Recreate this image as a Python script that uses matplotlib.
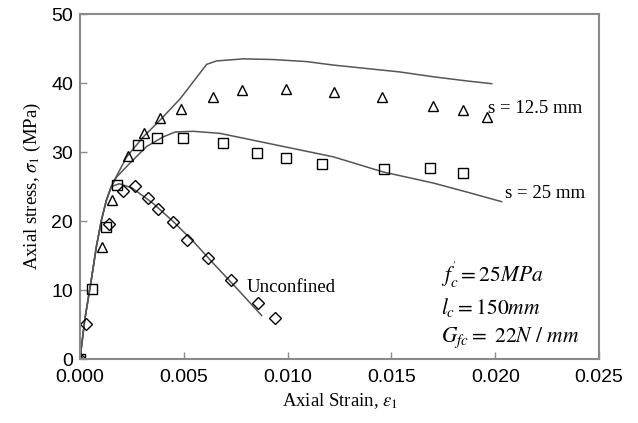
import numpy as np
import matplotlib
matplotlib.use("Agg")
import matplotlib.pyplot as plt

plt.rcParams['mathtext.fontset'] = 'stix'

tri_x = [0.0, 0.00104, 0.00152, 0.0023, 0.00307, 0.00387, 0.00487, 0.00642,
         0.00779, 0.00991, 0.01222, 0.01453, 0.01702, 0.01846, 0.01959]
tri_y = [0.0, 16.3, 23.0, 29.4, 32.8, 34.9, 36.2, 37.9,
         39.0, 39.2, 38.7, 38.0, 36.7, 36.1, 35.1]

sq_x = [0.0, 0.00056, 0.00125, 0.00177, 0.00281, 0.00369, 0.00498, 0.0069,
        0.00851, 0.00992, 0.01167, 0.01466, 0.01686, 0.01846]
sq_y = [0.0, 10.1, 19.2, 25.2, 31.0, 32.1, 32.1, 31.3,
        29.9, 29.2, 28.3, 27.6, 27.7, 27.0]

dia_x = [0.0, 0.00029, 0.00141, 0.00209, 0.00265, 0.00329, 0.00377, 0.00449,
         0.00514, 0.00618, 0.00727, 0.00856, 0.00939]
dia_y = [0.0, 5.1, 19.6, 24.3, 25.1, 23.4, 21.8, 19.8,
         17.3, 14.6, 11.4, 8.1, 6.0]

# Curvas del modelo
rise_x = [0.0, 0.00023, 0.00054, 0.00079, 0.00103, 0.00127, 0.00151]
rise_y = [0.0, 5.7, 11.4, 16.3, 20.1, 23.0, 25.0]

s125_x = rise_x + [0.0016, 0.00225, 0.00305, 0.00385, 0.00482, 0.0061, 0.00658,
                   0.00787, 0.00931, 0.01092, 0.0122, 0.01381, 0.01541, 0.01702,
                   0.01863, 0.01983]
s125_y = rise_y + [25.6, 29.3, 32.2, 34.6, 37.7, 42.7, 43.2,
                   43.5, 43.4, 43.1, 42.6, 42.1, 41.6, 40.9,
                   40.3, 39.9]

s25_x = rise_x + [0.00177, 0.00241, 0.00321, 0.00401, 0.00458, 0.00546, 0.00674,
                  0.00787, 0.00947, 0.0106, 0.0122, 0.01461, 0.01702, 0.01863,
                  0.02031]
s25_y = rise_y + [26.4, 28.4, 30.8, 32.2, 32.9, 33.0, 32.7,
                  32.0, 31.0, 30.3, 29.3, 27.1, 25.5, 24.2,
                  22.8]

unc_x = rise_x + [0.0019, 0.0025, 0.0035, 0.0045, 0.0055, 0.0065, 0.0075, 0.00875]
unc_y = rise_y + [25.4, 24.8, 22.6, 19.9, 16.9, 13.6, 10.4, 6.3]

fig = plt.figure(figsize=(6.38, 4.23), dpi=100)
ax = fig.add_axes([0.1254, 0.1513, 0.8135, 0.8156])

lc = '#555555'
ax.plot(s125_x, s125_y, color=lc, lw=1.1)
ax.plot(s25_x, s25_y, color=lc, lw=1.1)
ax.plot(unc_x, unc_y, color=lc, lw=1.1)

mk = dict(linestyle='none', markerfacecolor='none', markeredgecolor='black',
          markeredgewidth=1.0, markersize=7)
ax.plot(tri_x, tri_y, marker='^', **mk)
ax.plot(sq_x, sq_y, marker='s', **mk)
ax.plot(dia_x, dia_y, marker='D', **dict(mk, markersize=6.3))

ax.set_xlim(0, 0.025)
ax.set_ylim(0, 50)
ax.set_xticks([0.0, 0.005, 0.010, 0.015, 0.020, 0.025])
ax.set_xticklabels(['0.000', '0.005', '0.010', '0.015', '0.020', '0.025'])
ax.set_yticks([0, 10, 20, 30, 40, 50])

for sp in ax.spines.values():
    sp.set_color('#8a8a8a')
    sp.set_linewidth(1.5)
ax.tick_params(direction='in', length=5, width=1, colors='#8a8a8a',
               labelcolor='black', labelsize=14)
ax.tick_params(axis='x', pad=7)
ax.tick_params(axis='y', pad=5)
for lab in ax.get_xticklabels() + ax.get_yticklabels():
    lab.set_family('Liberation Sans')

ax.set_xlabel(r'Axial Strain, $\varepsilon_1$', family='Liberation Serif',
              fontsize=13.5, labelpad=4)
ax.set_ylabel(r'Axial stress, $\sigma_1$ (MPa)', family='Liberation Serif',
              fontsize=13.5, labelpad=6)

ax.text(0.0080, 10.4, 'Unconfined', family='Liberation Serif', fontsize=13.5,
        va='center', ha='left')
ax.text(0.01965, 36.3, 's = 12.5 mm', family='Liberation Serif', fontsize=13.5,
        va='center', ha='left')
ax.text(0.02047, 24.0, 's = 25 mm', family='Liberation Serif', fontsize=13.5,
        va='center', ha='left')

ax.text(0.0174, 12.2, r"$f_c^{'} = 25MPa$", fontsize=15.5, va='center', ha='left')
ax.text(0.0174, 7.5, r"$l_c = 150mm$", fontsize=15.5, va='center', ha='left')
ax.text(0.0174, 3.1, r"$G_{fc} = \ 22N\ /\ mm$", fontsize=15.5, va='center', ha='left')

fig.savefig('out.png', dpi=100)
